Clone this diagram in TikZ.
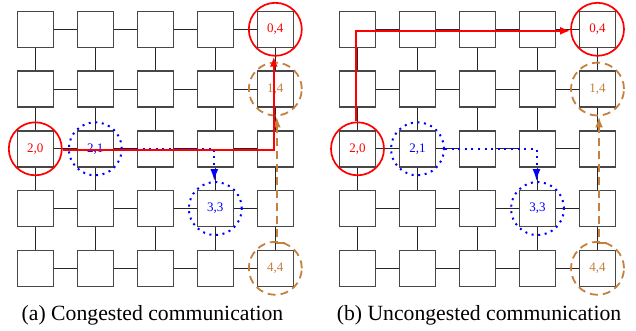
\documentclass[tikz,border=0pt]{standalone}
\usepackage{fontspec}
\setmainfont{Liberation Serif}
\usetikzlibrary{arrows.meta}
\definecolor{flowred}{RGB}{255,0,0}
\definecolor{flowblue}{RGB}{0,0,255}
\definecolor{flowbrown}{RGB}{196,128,60}

\tikzset{
  router/.style={draw=black!72, line width=1.5pt, fill=white, rectangle,
    minimum size=36pt, inner sep=0pt},
  link/.style={draw=black!85, line width=1pt},
  tag/.style={inner sep=0pt, font=\fontsize{13}{13}\selectfont},
  ring/.style={circle, minimum size=53pt, inner sep=0pt},
  redring/.style={ring, draw=flowred, line width=1.7pt},
  bluering/.style={ring, draw=flowblue, line width=2pt, dash pattern=on 2pt off 4.6pt},
  brownring/.style={ring, draw=flowbrown, line width=1.8pt, dash pattern=on 8pt off 5pt},
  redflow/.style={draw=flowred, line width=1.8pt, -{Latex[length=10pt,width=8pt]}},
  blueflow/.style={draw=flowblue, line width=2pt, dash pattern=on 2pt off 4.6pt,
    -{Latex[length=12pt,width=8pt]}},
  brownflow/.style={draw=flowbrown, line width=2pt, dash pattern=on 8pt off 5pt,
    -{Latex[length=11pt,width=8pt]}},
  caption/.style={font=\fontsize{21.7}{21.7}\selectfont, inner sep=0pt}
}

% 5x5 mesh of routers, names #1<row><col>, first column centred at x = #2
\newcommand\meshgrid[2]{%
  \foreach \r in {0,...,4}{%
    \foreach \c in {0,...,4}{%
      \node[router] (#1\r\c) at ({#2+60*\c},{29.3+59.75*\r}) {};
    }%
  }%
  \foreach \r in {0,...,4}{%
    \foreach \c [evaluate=\c as \cn using int(\c+1)] in {0,...,3}{%
      \draw[link] (#1\r\c.east) -- (#1\r\cn.west);
    }%
  }%
  \foreach \r [evaluate=\r as \rn using int(\r+1)] in {0,...,3}{%
    \foreach \c in {0,...,4}{%
      \draw[link] (#1\r\c.south) -- (#1\rn\c.north);
    }%
  }%
  \node[tag, text=flowred]   (#1t04) at (#104) {0,4};
  \node[tag, text=flowbrown] (#1t14) at (#114) {1,4};
  \node[tag, text=flowred]   (#1t20) at (#120) {2,0};
  \node[tag, text=flowblue]  (#1t21) at (#121) {2,1};
  \node[tag, text=flowblue]  (#1t33) at (#133) {3,3};
  \node[tag, text=flowbrown] (#1t44) at (#144) {4,4};
  \node[redring]   (#1c04) at (#104) {};
  \node[brownring] (#1c14) at (#114) {};
  \node[redring]   (#1c20) at (#120) {};
  \node[bluering]  (#1c21) at (#121) {};
  \node[bluering]  (#1c33) at (#133) {};
  \node[brownring] (#1c44) at (#144) {};
}

\begin{document}
\begin{tikzpicture}[x=1pt,y=-1pt]
  \useasboundingbox (0,0) rectangle (636,330);

  % (a) congested: the long flow shares row 2 with the short one
  \meshgrid{L}{35.3}
  \draw[blueflow]  (Lc21.east) -| ([xshift=-1pt]Lc33.north);
  \draw[brownflow] (Lc44.70) -| ([xshift=1.5pt]Lc14.south);
  \draw[redflow]   ([yshift=-1pt]Lc20.east) -| ([xshift=-1.5pt]Lc04.south);
  \node[caption] (capa) at (152.5,315.5) {(a) Congested communication};

  % (b) uncongested: the long flow goes up column 0 first
  \meshgrid{R}{357.5}
  \draw[blueflow]  (Rc21.east) -| ([xshift=-1pt]Rc33.north);
  \draw[brownflow] (Rc44.70) -| ([xshift=1.5pt]Rc14.south);
  \draw[redflow]   ([xshift=-1.5pt]Rc20.north) |- ([yshift=-1.5pt]Rc04.west);
  \node[caption] (capb) at (479,315.5) {(b) Uncongested communication};
\end{tikzpicture}
\end{document}
